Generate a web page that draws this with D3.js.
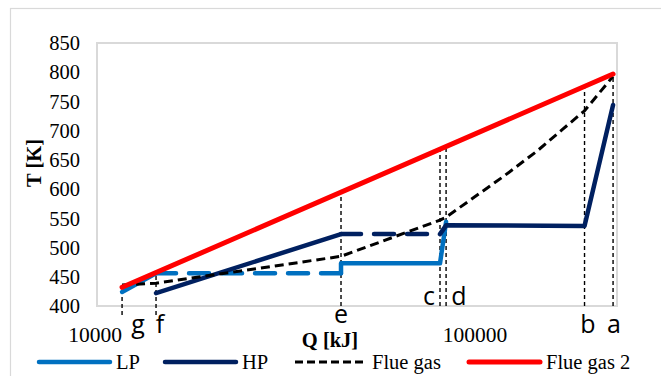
<!DOCTYPE html>
<html><head><meta charset="utf-8">
<script src="https://cdn.jsdelivr.net/npm/d3@7"></script>
<style>body{margin:0;background:#fff;overflow:hidden}</style>
</head><body><svg id="c" width="661" height="376"></svg>
<script>
// ---- data ----
const yTicks = [400, 450, 500, 550, 600, 650, 700, 750, 800, 850];
const xTicks = [10000, 100000];
const xTickLabels = ["10000", "100000"];
const markerNames = ["g", "f", "e", "c", "d", "b", "a"];
const markerQ = [11640, 14300, 43860, 79900, 82900, 191800, 228000];
const markerTopT = [433, 458, 596, 669, 669, 776, 795];
const lpSolid1Q = [11640, 14300], lpSolid1T = [424, 456];
const lpDashQ = [14300, 43860], lpDashT = [456, 456];
const lpSolid2Q = [43860, 43860, 79900, 82900], lpSolid2T = [456, 473, 473, 544];
const hpSolid1Q = [14300, 43860], hpSolid1T = [422, 523];
const hpDashQ = [43860, 79900], hpDashT = [523, 523];
const hpSolid2Q = [79900, 82900, 191800, 228000], hpSolid2T = [523, 538, 537, 744];
const flueQ = [11640, 14300, 43860, 79900, 82900, 117000, 143800, 168400, 191800, 228000];
const flueT = [436, 439, 485, 547, 552, 621, 665, 703, 734, 793];
const flue2Q = [11640, 228000], flue2T = [432, 797];
const legendNames = ["LP", "HP", "Flue gas", "Flue gas 2"];

// ---- chart ----
const svg = d3.select("#c");
const L = 97, R = 617, T = 43, B = 306;
const x = d3.scaleLog().domain([10000, 233500]).range([L, R]);
const y = d3.scaleLinear().domain([400, 850]).range([B, T]);
const serif = "'Liberation Serif','Times New Roman',serif";
const sans = "'Open Sans','Noto Sans',sans-serif";
const cLP = "#0070C0", cHP = "#002060", cRed = "#FF0000";

// outer border
svg.append("rect").attr("x", 10.5).attr("y", 8.5).attr("width", 700).attr("height", 400)
  .attr("fill", "none").attr("stroke", "#D9D9D9").attr("stroke-width", 1.2);
// plot border
svg.append("rect").attr("x", L).attr("y", T).attr("width", R - L).attr("height", B - T)
  .attr("fill", "none").attr("stroke", "#D9D9D9").attr("stroke-width", 2);

// y tick labels
svg.append("g").selectAll("text").data(yTicks).join("text")
  .attr("x", 80).attr("y", d => y(d)).attr("dy", "0.35em").attr("text-anchor", "end")
  .attr("font-family", serif).attr("font-size", 20.5).attr("fill", "#000").text(d => d);
// x tick labels
svg.append("g").selectAll("text").data(xTicks).join("text")
  .attr("x", (d) => x(d) - 2).attr("y", 342).attr("text-anchor", "middle")
  .attr("font-family", serif).attr("font-size", 21.5).attr("fill", "#000")
  .text((d, i) => xTickLabels[i]);

// axis titles
svg.append("text").attr("x", 330).attr("y", 347).attr("text-anchor", "middle")
  .attr("font-family", serif).attr("font-weight", "bold").attr("font-size", 20.5).text("Q [kJ]");
svg.append("text").attr("transform", "translate(41,163) rotate(-90)").attr("text-anchor", "middle")
  .attr("font-family", serif).attr("font-weight", "bold").attr("font-size", 20.5).text("T [K]");

// marker vertical lines
const markerBottom = [315, 315, 306, 306, 306, 306, 306];
const markers = markerNames.map((n, i) => ({ n, q: markerQ[i], t: markerTopT[i], b: markerBottom[i] }));
svg.append("g").selectAll("line").data(markers).join("line")
  .attr("x1", d => x(d.q)).attr("x2", d => x(d.q))
  .attr("y1", d => d.b).attr("y2", d => y(d.t))
  .attr("stroke", "#000").attr("stroke-width", 1.4).attr("stroke-dasharray", "4,3");

const line = d3.line().x(d => x(d[0])).y(d => y(d[1]));
const zip = (a, b) => a.map((v, i) => [v, b[i]]);
function path(q, t, color, w, dash, cap) {
  svg.append("path").attr("d", line(zip(q, t))).attr("fill", "none")
    .attr("stroke", color).attr("stroke-width", w)
    .attr("stroke-linecap", cap || "round").attr("stroke-linejoin", "round")
    .attr("stroke-dasharray", dash || null);
}
// LP
path(lpSolid1Q, lpSolid1T, cLP, 4.5);
path(lpDashQ, lpDashT, cLP, 4.5, "20,13");
path(lpSolid2Q, lpSolid2T, cLP, 4.5);
// HP
path(hpSolid1Q, hpSolid1T, cHP, 4.5);
path(hpDashQ, hpDashT, cHP, 4.5, "20,13");
path(hpSolid2Q, hpSolid2T, cHP, 4.5);
// Flue gas
path(flueQ, flueT, "#000", 3, "9,5", "butt");
// Flue gas 2
path(flue2Q, flue2T, cRed, 5);

// marker letters
const labelPos = {
  g: [138, 333, "middle"], f: [160, 333, "middle"], e: [341, 323, "middle"],
  c: [429, 305, "middle"], d: [459, 305, "middle"], b: [588, 333, "middle"], a: [614, 333, "middle"]
};
svg.append("g").selectAll("text").data(markers).join("text")
  .attr("x", d => labelPos[d.n][0]).attr("y", d => labelPos[d.n][1])
  .attr("text-anchor", d => labelPos[d.n][2])
  .attr("font-family", sans).attr("font-size", 25).attr("fill", "#000").text(d => d.n);

// legend
const legX = [39, 165, 295, 469];
const legY = 362;
const legStyle = [[cLP, 4.5, null, "round"], [cHP, 4.5, null, "round"], ["#000", 3, "8,4", "butt"], [cRed, 5, null, "round"]];
legendNames.forEach((n, i) => {
  svg.append("line").attr("x1", legX[i]).attr("x2", legX[i] + 71).attr("y1", legY).attr("y2", legY)
    .attr("stroke", legStyle[i][0]).attr("stroke-width", legStyle[i][1])
    .attr("stroke-dasharray", legStyle[i][2]).attr("stroke-linecap", legStyle[i][3]);
  svg.append("text").attr("x", legX[i] + 77).attr("y", legY).attr("dy", "0.35em")
    .attr("font-family", serif).attr("font-size", 20.5).attr("fill", "#000").text(n);
});
</script></body></html>
